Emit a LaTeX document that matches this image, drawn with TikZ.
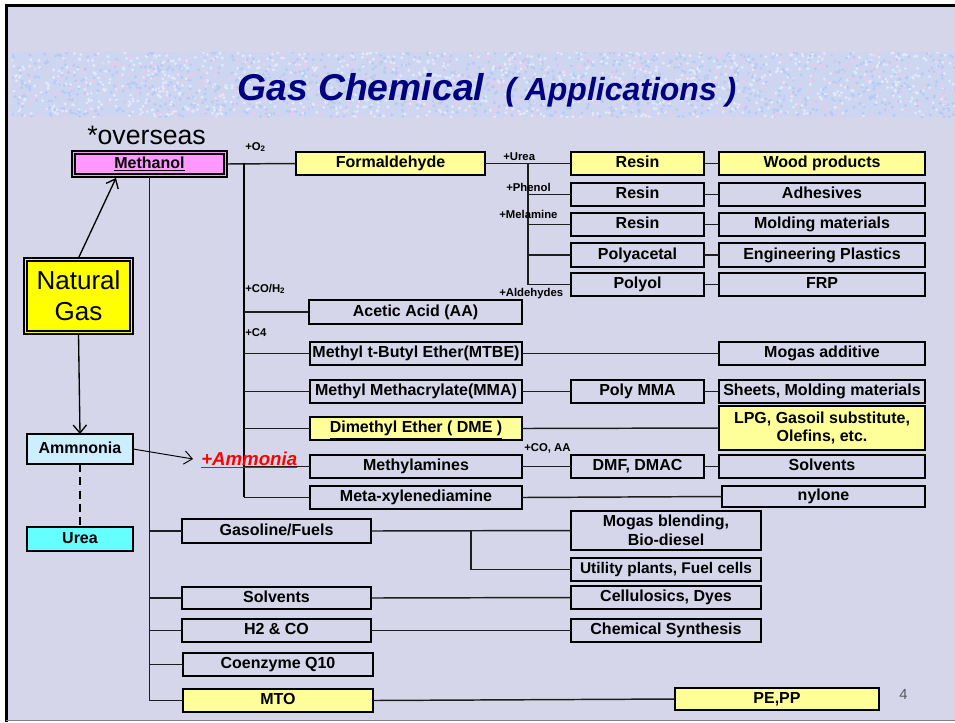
\documentclass[tikz,border=0pt]{standalone}
\usepackage{fontspec}
\setmainfont{Liberation Sans}
\usetikzlibrary{arrows.meta,calc}
\definecolor{bg}{RGB}{213,214,234}
\definecolor{banner}{RGB}{204,214,240}
\definecolor{tex1}{RGB}{182,202,244}
\definecolor{tex2}{RGB}{228,206,236}
\definecolor{tex3}{RGB}{226,234,250}
\definecolor{navy}{RGB}{0,0,128}
\definecolor{ylw}{RGB}{255,255,153}
\definecolor{methpink}{RGB}{255,153,255}
\definecolor{ngyel}{RGB}{255,255,0}
\definecolor{ammblue}{RGB}{204,238,255}
\definecolor{ureacyan}{RGB}{102,255,255}
\definecolor{lnk}{RGB}{30,30,30}
\newcommand\bx[7]{%
 \pgfmathsetmacro\bxcx{(#2+#4)/2}\pgfmathsetmacro\bxcy{(#3+#5)/2}%
 \pgfmathsetmacro\bxw{(#4-#2)*0.75}\pgfmathsetmacro\bxh{(#5-#3)*0.75}%
 \node[#6, minimum width=\bxw pt, minimum height=\bxh pt] (#1) at (\bxcx,\bxcy) {#7};}
\begin{document}
\begin{tikzpicture}[x=0.75pt,y=-0.75pt,
 box/.style={draw=black, line width=1.3pt, fill=bg, inner sep=0pt, outer sep=0pt, font=\bfseries\fontsize{12}{14}\selectfont, align=center, text height=8.6pt, text depth=2.4pt},
 twoline/.style={text height={}, text depth={}},
 ybox/.style={box, fill=ylw},
 link/.style={draw=lnk, line width=1.1pt},
 trunk/.style={draw=black, line width=1.5pt},
 lbl/.style={font=\bfseries\fontsize{8.5}{10}\selectfont, inner sep=0pt, anchor=base west},
 arr/.style={draw=black, line width=1pt, -{Straight Barb[length=6pt,width=10pt]}},
 arrthin/.style={draw=black, line width=0.7pt, -{Straight Barb[length=6pt,width=10pt]}}]
\useasboundingbox (0,0) rectangle (955,722);
% frame and background
\fill[white] (0,0) rectangle (955,722);
\fill[bg] (5,4) rectangle (955,720);
\draw[black, line width=2.25pt] (6,722) -- (6,5) -- (955,5);
\draw[gray, line width=0.75pt] (6,720.5) -- (955,720.5);
\fill[banner] (12,52) rectangle (955,117);
\begin{scope}
\clip (12,52) rectangle (955,117);
\pgfmathsetseed{7}
\foreach \i in {1,...,3200} {
  \pgfmathsetmacro\dx{12+rnd*943}
  \pgfmathsetmacro\dy{52+rnd*65}
  \pgfmathtruncatemacro\dc{1+3*rnd}
  \fill[color=tex\dc] (\dx,\dy) circle[radius=1.2pt];
}
\end{scope}
% title
\node[anchor=base west, inner sep=0pt, text=navy, font=\bfseries\itshape\fontsize{28}{30}\selectfont] (title1) at (237,100) {Gas Chemical};
\node[anchor=base west, inner sep=0pt, text=navy, font=\bfseries\itshape\fontsize{24}{26}\selectfont] (title2) at (505,100) {( Applications )};
\node[anchor=base west, inner sep=0pt, font=\fontsize{20}{22}\selectfont] (overseas) at (87,144) {*overseas};
% Methanol
\bx{meth}{72}{151}{227}{177}{box, fill=methpink, line width=0.9pt}{}
\bx{methin}{75}{154}{224}{174}{box, fill=none, line width=1.2pt}{\underline{Methanol}}
% Natural gas
\bx{ng}{24}{258}{133}{334}{box, fill=ngyel, line width=1pt}{}
\bx{ngin}{27}{261}{130}{331}{box, twoline, fill=none, font=\mdseries\fontsize{19.5}{23}\selectfont}{Natural\\Gas}
% Ammonia, urea
\bx{amm}{27}{434}{133}{464}{box, fill=ammblue, line width=2.2pt}{Ammnonia}
\bx{urea}{27}{527}{133}{551}{box, fill=ureacyan, line width=1.5pt}{Urea}
% Formaldehyde branch
\bx{form}{296}{152}{485}{175}{ybox}{Formaldehyde}
\bx{r1}{571}{152}{704}{175}{ybox}{Resin}
\bx{p1}{719}{152}{925}{175}{ybox}{Wood products}
\bx{r2}{571}{183}{704}{206}{box}{Resin}
\bx{p2}{719}{183}{925}{206}{box}{Adhesives}
\bx{r3}{571}{213}{704}{236}{box}{Resin}
\bx{p3}{719}{213}{925}{236}{box}{Molding materials}
\bx{r4}{571}{243}{704}{267}{box}{Polyacetal}
\bx{p4}{719}{243}{925}{267}{box}{Engineering Plastics}
\bx{r5}{571}{273}{704}{296}{box}{Polyol}
\bx{p5}{719}{273}{925}{296}{box}{FRP}
% other methanol derivatives
\bx{aa}{309}{300}{522}{324}{box}{Acetic Acid (AA)}
\bx{mtbe}{310}{342}{522}{365}{box}{Methyl t-Butyl Ether(MTBE)}
\bx{mogas}{719}{342}{925}{365}{box}{Mogas additive}
\bx{mma}{310}{380}{522}{403}{box}{Methyl Methacrylate(MMA)}
\bx{pmma}{571}{380}{704}{403}{box}{Poly MMA}
\bx{sheets}{719}{380}{925}{403}{box}{Sheets, Molding materials}
\bx{dme}{310}{417}{522}{440}{ybox}{\underline{Dimethyl Ether ( DME )}}
\bx{lpg}{719}{406}{925}{450}{ybox, twoline}{LPG, Gasoil substitute,\\Olefins, etc.}
\bx{mea}{310}{455}{522}{478}{box}{Methylamines}
\bx{dmf}{571}{455}{704}{478}{box}{DMF, DMAC}
\bx{solv1}{719}{455}{925}{478}{box}{Solvents}
\bx{mxd}{310}{486}{522}{509}{box}{Meta-xylenediamine}
\bx{nyl}{722}{486}{925}{507}{box}{nylone}
% lower column
\bx{gas}{182}{519}{371}{543}{box}{Gasoline/Fuels}
\bx{solv2}{182}{587}{371}{609}{box}{Solvents}
\bx{h2co}{182}{619}{371}{642}{box}{H2 \& CO}
\bx{coq}{183}{653}{373}{676}{box}{Coenzyme Q10}
\bx{mto}{183}{689}{373}{712}{ybox}{MTO}
\bx{mogb}{571}{511}{761}{550}{box, twoline}{Mogas blending,\\Bio-diesel}
\bx{util}{571}{558}{761}{581}{box, font=\bfseries\fontsize{11.6}{14}\selectfont}{Utility plants, Fuel cells}
\bx{cell}{571}{586}{761}{609}{box}{Cellulosics, Dyes}
\bx{chem}{571}{619}{761}{642}{box}{Chemical Synthesis}
\bx{pepp}{675}{688}{879}{710}{ybox}{PE,PP}
% connectors
\coordinate (tA) at (244,163);
\coordinate (tAe) at (244,497);
\coordinate (fB) at (528,163);
\coordinate (gB) at (471,531);
\coordinate (mA) at (116,178);
\coordinate (amA) at (193,459);
\draw[link] (meth.east) -- (form.west);
\draw[trunk] (tA) -- (tAe);
\foreach \n in {aa,mtbe,mma,dme,mea,mxd} {\draw[link] (tA |- \n.west) -- (\n.west);}
\draw[link] (form.east) -- (r1.west);
\draw[link] (fB) -- (fB |- r5.west);
\foreach \n in {r2,r3,r4,r5} {\draw[link] (fB |- \n.west) -- (\n.west);}
\foreach \a/\b in {r1/p1,r2/p2,r3/p3,r4/p4,r5/p5} {\draw[link] (\a.east) -- (\b.west);}
\draw[link] (mtbe.east) -- (mogas.west);
\draw[link] (mma.east) -- (pmma.west);
\draw[link] (pmma.east) -- (sheets.west);
\draw[link] (dme.east) -- (lpg.west);
\draw[link] (mea.east) -- (dmf.west);
\draw[link] (dmf.east) -- (solv1.west);
\draw[link] (mxd.east) -- (nyl.west);
\draw[link] (meth.south) -- (meth.south |- mto.west);
\foreach \n in {gas,solv2,h2co,coq,mto} {\draw[link] (meth.south |- \n.west) -- (\n.west);}
\draw[link] (gas.east) -- (mogb.west);
\draw[link] (gB) |- (util.west);
\draw[link] (solv2.east) -- (cell.west);
\draw[link] (h2co.east) -- (chem.west);
\draw[link] (mto.east) -- (pepp.west);
% arrows
\draw[arr] (ng.north) -- (mA);
\draw[arr] (ng.south) -- (amm.north);
\draw[arrthin] (amm.east) -- (amA);
\draw[black, line width=1.6pt, dash pattern=on 6pt off 4pt] (amm.south) -- (urea.north);
% labels
\node[lbl] (lo2) at (245,150) {+O\textsubscript{2}};
\node[lbl] (lco) at (245,292) {+CO/H\textsubscript{2}};
\node[lbl] (lc4) at (245,336) {+C4};
\node[lbl] (lurea) at (503,160) {+Urea};
\node[lbl] (lphen) at (506,191) {+Phenol};
\node[lbl] (lmel) at (499,218) {+Melamine};
\node[lbl] (lald) at (499,296) {+Aldehydes};
\node[lbl] (lcoaa) at (524,451) {+CO, AA};
\node[anchor=base west, inner sep=0pt, text=red, font=\bfseries\itshape\fontsize{14}{16}\selectfont] (ammlbl) at (201,465) {\underline{+Ammonia}};
\node[anchor=base west, inner sep=0pt, text=black!65, font=\fontsize{11}{13}\selectfont] (pageno) at (899,699) {4};
\end{tikzpicture}
\end{document}
